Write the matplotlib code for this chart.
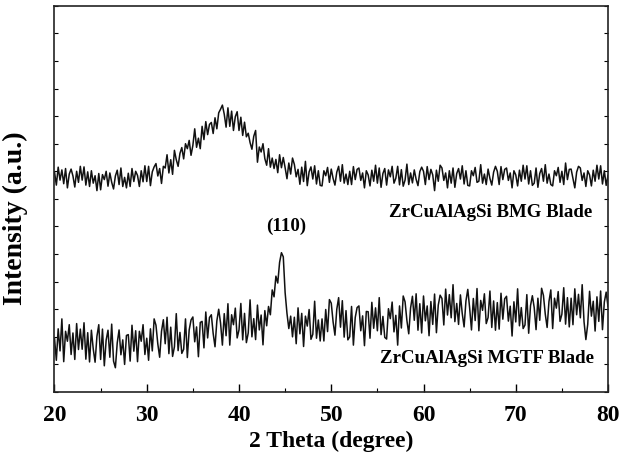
import numpy as np
import matplotlib
matplotlib.use("Agg")
import matplotlib.pyplot as plt
from matplotlib.ticker import MultipleLocator

# 2-theta scan, 20-80 degrees in 0.2 degree steps
two_theta = np.round(np.arange(20.0, 80.0001, 0.2), 1)

# ZrCuAlAgSi BMG blade (counts, offset upward)
bmg = [
    798, 750, 815, 768, 805,
    755, 810, 740, 790, 808,
    783, 743, 800, 760, 818,
    768, 816, 750, 798, 745,
    802, 757, 784, 730, 792,
    733, 788, 770, 800, 746,
    794, 760, 736, 783, 804,
    752, 812, 745, 778, 740,
    793, 745, 810, 763, 800,
    785, 745, 802, 762, 820,
    763, 818, 748, 798, 816,
    828, 783, 810, 756, 818,
    812, 860, 794, 842, 789,
    876, 842, 818, 865, 886,
    845, 900, 882, 912, 858,
    894, 954, 887, 920, 882,
    963, 915, 980, 933, 970,
    977, 937, 994, 954, 1012,
    1025, 1040, 1007, 960, 1030,
    963, 1018, 948, 998, 1016,
    948, 996, 930, 978, 925,
    938, 904, 880, 927, 948,
    833, 888, 870, 900, 846,
    822, 882, 815, 848, 810,
    843, 795, 860, 813, 850,
    813, 773, 830, 790, 848,
    825, 780, 807, 753, 815,
    763, 836, 748, 798, 816,
    772, 820, 754, 802, 749,
    747, 802, 784, 814, 760,
    808, 774, 750, 797, 818,
    764, 824, 757, 790, 752,
    800, 752, 817, 770, 807,
    812, 767, 794, 740, 802,
    787, 747, 804, 764, 822,
    757, 812, 742, 792, 810,
    750, 805, 780, 818, 757,
    775, 818, 751, 806, 746,
    768, 826, 752, 794, 758,
    805, 771, 748, 799, 815,
    800, 752, 817, 770, 807,
    787, 730, 804, 764, 822,
    812, 767, 794, 740, 802,
    757, 812, 742, 792, 810,
    772, 820, 754, 802, 749,
    747, 802, 784, 814, 760,
    764, 824, 757, 790, 752,
    808, 774, 750, 797, 818,
    800, 752, 817, 770, 807,
    812, 767, 794, 740, 802,
    787, 747, 804, 764, 822,
    772, 820, 754, 802, 749,
    757, 812, 742, 792, 810,
    764, 824, 757, 790, 752,
    747, 802, 784, 814, 760,
    800, 752, 830, 770, 807,
    808, 774, 740, 797, 818,
    812, 767, 794, 745, 802,
    787, 747, 804, 764, 822,
    772, 820, 754, 802, 749,
    785,
]

# ZrCuAlAgSi MGTF blade (counts)
mgtf = [
    195, 115, 229, 149, 265,
    110, 220, 184, 244, 136,
    214, 118, 248, 154, 228,
    155, 251, 119, 215, 109,
    224, 156, 108, 202, 244,
    118, 228, 95, 188, 224,
    126, 246, 112, 88, 178,
    225, 135, 189, 100, 205,
    208, 112, 242, 148, 222,
    110, 220, 184, 244, 136,
    195, 115, 229, 149, 265,
    242, 174, 126, 220, 262,
    175, 271, 139, 235, 129,
    164, 284, 150, 216, 140,
    155, 265, 125, 225, 261,
    272, 182, 236, 128, 252,
    256, 160, 290, 196, 270,
    280, 212, 164, 258, 300,
    250, 170, 284, 204, 320,
    170, 280, 244, 304, 196,
    225, 321, 189, 285, 179,
    214, 334, 200, 266, 190,
    315, 225, 279, 171, 295,
    240, 310, 280, 370, 345,
    420, 395, 470, 505, 490,
    360, 285, 230, 275, 200,
    271, 175, 305, 211, 285,
    165, 275, 239, 299, 191,
    209, 329, 195, 261, 185,
    265, 185, 299, 219, 335,
    322, 254, 206, 300, 342,
    235, 331, 199, 295, 189,
    200, 310, 170, 270, 306,
    312, 222, 276, 168, 292,
    291, 195, 325, 231, 305,
    222, 342, 208, 274, 198,
    192, 302, 266, 326, 218,
    278, 170, 312, 232, 348,
    327, 259, 211, 305, 347,
    260, 356, 224, 320, 214,
    348, 258, 312, 204, 328,
    245, 355, 215, 315, 351,
    339, 243, 373, 279, 353,
    269, 389, 255, 321, 245,
    352, 284, 236, 330, 372,
    305, 225, 339, 259, 375,
    222, 332, 296, 356, 248,
    270, 366, 234, 330, 224,
    324, 228, 358, 264, 338,
    347, 257, 311, 203, 327,
    254, 374, 240, 306, 230,
    243, 353, 213, 313, 349,
    306, 226, 340, 260, 376,
    350, 282, 234, 328, 370,
    230, 340, 304, 364, 256,
    282, 378, 246, 342, 236,
    340, 244, 374, 280, 354,
    269, 389, 255, 190, 245,
    365, 275, 329, 221, 345,
    256, 366, 226, 326, 362,
    310,
]

x_ticks = [20, 30, 40, 50, 60, 70, 80]
label_bmg = "ZrCuAlAgSi BMG Blade"
label_mgtf = "ZrCuAlAgSi MGTF Blade"
label_peak = "(110)"

plt.rcParams["font.family"] = ["Liberation Serif", "DejaVu Serif"]
plt.rcParams["font.weight"] = "bold"

fig = plt.figure(figsize=(6.3, 4.62), dpi=100)
ax = fig.add_axes([0.0865, 0.1515, 0.8786, 0.836])

ax.plot(two_theta, bmg, color="#111111", lw=1.1)
ax.plot(two_theta, mgtf, color="#111111", lw=1.1)

ax.set_xlim(20, 80)
ax.set_ylim(0, 1400)
ax.set_xticks(x_ticks)
ax.xaxis.set_minor_locator(MultipleLocator(5))
ax.yaxis.set_major_locator(MultipleLocator(100))
ax.set_yticklabels([])
ax.tick_params(axis="x", which="major", direction="in", length=6, width=1.0,
               labelsize=17, pad=9)
ax.tick_params(axis="x", which="minor", direction="in", length=3, width=0.8)
ax.tick_params(axis="y", which="major", direction="in", length=3, width=0.8,
               left=True, right=True, labelleft=False)
for lbl in ax.get_xticklabels():
    lbl.set_fontweight("bold")
for sp in ax.spines.values():
    sp.set_linewidth(1.2)
    sp.set_color("#222222")

ax.set_xlabel("2 Theta (degree)", fontsize=17, fontweight="bold", labelpad=4)
ax.set_ylabel("Intensity (a.u.)", fontsize=20, fontweight="bold")
ax.yaxis.set_label_coords(-0.048, 0.45)

ax.text(78.3, 650, label_bmg, fontsize=13.6, fontweight="bold", ha="right", va="center")
ax.text(45.1, 600, label_peak, fontsize=13.6, fontweight="bold", ha="center", va="center")
ax.text(78.5, 122, label_mgtf, fontsize=13.6, fontweight="bold", ha="right", va="center")

fig.savefig("out.png", dpi=100)
